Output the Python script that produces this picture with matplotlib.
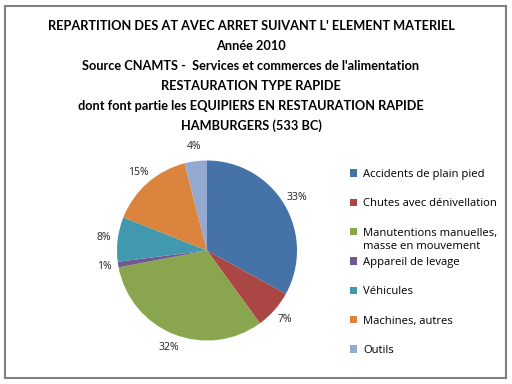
import matplotlib
matplotlib.use("Agg")
import matplotlib.pyplot as plt
from matplotlib.patches import Rectangle
from matplotlib.text import Annotation

plt.rcParams['font.family'] = ['Lato', 'DejaVu Sans']

title_lines = [
    "REPARTITION DES AT AVEC ARRET SUIVANT L' ELEMENT MATERIEL",
    "Année 2010",
    "Source CNAMTS -  Services et commerces de l'alimentation",
    "RESTAURATION TYPE RAPIDE",
    "dont font partie les EQUIPIERS EN RESTAURATION RAPIDE",
    "HAMBURGERS (533 BC)",
]
categories = [
    "Accidents de plain pied",
    "Chutes avec dénivellation",
    "Manutentions manuelles,",
    "Appareil de levage",
    "Véhicules",
    "Machines, autres",
    "Outils",
]
category_second_line = {2: "masse en mouvement"}
values = [33, 7, 32, 1, 8, 15, 4]
colors = ['#4572A7', '#AA4643', '#89A54E', '#71588F', '#4198AF', '#DB843D', '#93A9CF']

W, H = 512, 384
fig = plt.figure(figsize=(W / 100, H / 100), dpi=100)

# outer border
fig.patches.append(Rectangle((5 / W, 6 / H), 501 / W, 372 / H, transform=fig.transFigure,
                             fill=False, edgecolor='#7f7f7f', linewidth=1.5))

# title lines (baselines in pixels from top)
baselines = [30, 49.5, 69.5, 89.5, 109.5, 130]
for txt, yy in zip(title_lines, baselines):
    fig.text(251 / W, 1 - yy / H, txt, ha='center', va='baseline', fontsize=9.2,
             fontweight='bold', color='black')

small_font = ['Open Sans', 'DejaVu Sans']

# pie axes
cx, cy, r = 207, 250.5, 90
ax = fig.add_axes([(cx - r) / W, 1 - (cy + r) / H, 2 * r / W, 2 * r / H])
wedges, texts, autotexts = ax.pie(values, colors=colors, startangle=90, counterclock=False,
                                  autopct='%1.0f%%', pctdistance=1.16,
                                  wedgeprops=dict(linewidth=0),
                                  textprops=dict(fontsize=7.5, color='#222222',
                                                 family=small_font))
ax.set_xlim(-1, 1)
ax.set_ylim(-1, 1)
ax.set_aspect('auto')
ax.axis('off')

leg = fig.legend(wedges, categories, loc='upper left',
                 bbox_to_anchor=(350 / W, 1 - 169 / H), frameon=False,
                 prop=dict(size=8.1, family=small_font),
                 handlelength=0.62, handleheight=0.62,
                 handletextpad=0.55, labelspacing=1.63, borderpad=0, borderaxespad=0)
for i, extra in category_second_line.items():
    t = leg.get_texts()[i]
    ann = Annotation(extra, xy=(0, 0), xycoords=t, xytext=(0, -1.5),
                     textcoords='offset points', ha='left', va='top',
                     fontsize=8.1, family=small_font, color='black')
    ann.set_zorder(10)
    fig.add_artist(ann)

fig.savefig('out.png', dpi=100)
